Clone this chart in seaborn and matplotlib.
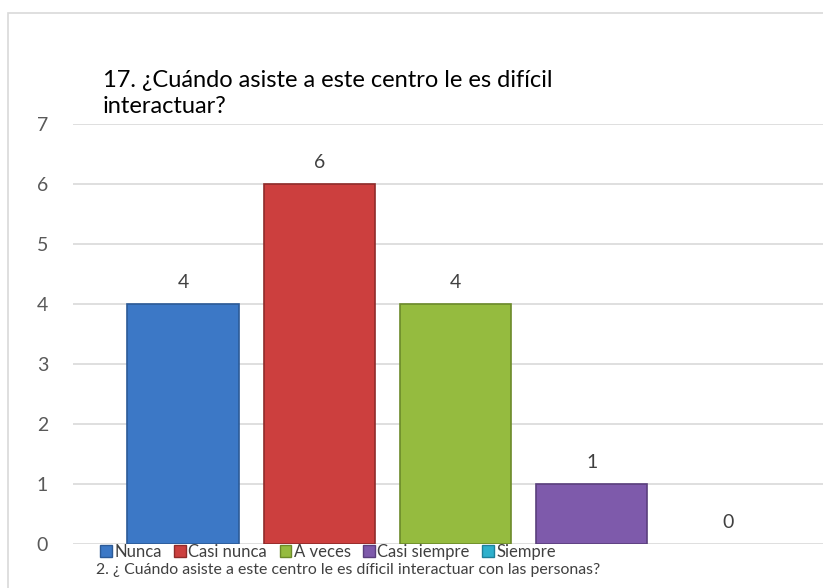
import matplotlib
matplotlib.use("Agg")
import matplotlib.pyplot as plt
import seaborn as sns
import pandas as pd
from matplotlib.patches import Rectangle, Patch

categories = ["Nunca", "Casi nunca", "A veces", "Casi siempre", "Siempre"]
values = [4, 6, 4, 1, 0]
colors = ["#3c78c6", "#cc3f3e", "#95bb3f", "#7e5aab", "#2eb0cc"]
edge_colors = ["#2c5a97", "#8f2b2a", "#6c8a2a", "#5a3f7d", "#1f8099"]
title = "17. ¿Cuándo asiste a este centro le es difícil\ninteractuar?"
subtitle = "2. ¿ Cuándo asiste a este centro le es díficil interactuar con las personas?"
yticks = [0, 1, 2, 3, 4, 5, 6, 7]

sns.set_theme(style="white")
plt.rcParams['font.family'] = ['Lato', 'DejaVu Sans']

df = pd.DataFrame({"cat": categories, "val": values})

W, H = 823, 588
fig = plt.figure(figsize=(W / 100, H / 100), dpi=100)
fig.patch.set_facecolor("white")
fig.patches.append(Rectangle((8 / W, -0.1), 1.2, 1 - 13 / H + 0.1, transform=fig.transFigure,
                             fill=False, edgecolor="#d9d9d9", linewidth=1.2))

ax = fig.add_axes([73 / W, 44 / H, 750 / W, 420 / H])
sns.barplot(data=df, x="cat", y="val", hue="cat", palette=colors, legend=False,
            saturation=1, width=0.82, ax=ax, zorder=3)
for p, ec, v in zip(ax.patches, edge_colors, values):
    p.set_edgecolor(ec)
    p.set_linewidth(1.2 if v > 0 else 0)

ax.set_xlim(-0.81, 4.70)
ax.set_ylim(0, 7)
ax.set_yticks(yticks)
ax.yaxis.grid(True, color="#d9d9d9", linewidth=1.2, zorder=0)
ax.set_axisbelow(True)
for s in ax.spines.values():
    s.set_visible(False)
ax.set_xticks([])
ax.set_xlabel("")
ax.set_ylabel("")
ax.tick_params(axis="y", length=0, pad=18, labelsize=14, labelcolor="#595959")

for i, v in enumerate(values):
    ax.text(i, v + 0.22, str(v), ha="center", va="bottom", fontsize=14, color="#404040")

fig.text(103 / W, 1 - 113 / H, title, ha="left", va="baseline", fontsize=17,
         color="#000000", linespacing=1.3)

handles = [Patch(facecolor=c, edgecolor=e) for c, e in zip(colors, edge_colors)]
ax.legend(handles, categories, loc="center left", bbox_to_anchor=(100 / W, 1 - 552 / H),
          bbox_transform=fig.transFigure, ncol=5, frameon=False, fontsize=12,
          handlelength=0.7, handleheight=0.7, handletextpad=0.15, columnspacing=0.75,
          borderaxespad=0, borderpad=0, labelcolor="#404040")

fig.text(96 / W, 1 - 570 / H, subtitle, ha="left", va="center", fontsize=11.4, color="#404040")

fig.savefig("out.png", dpi=100)
